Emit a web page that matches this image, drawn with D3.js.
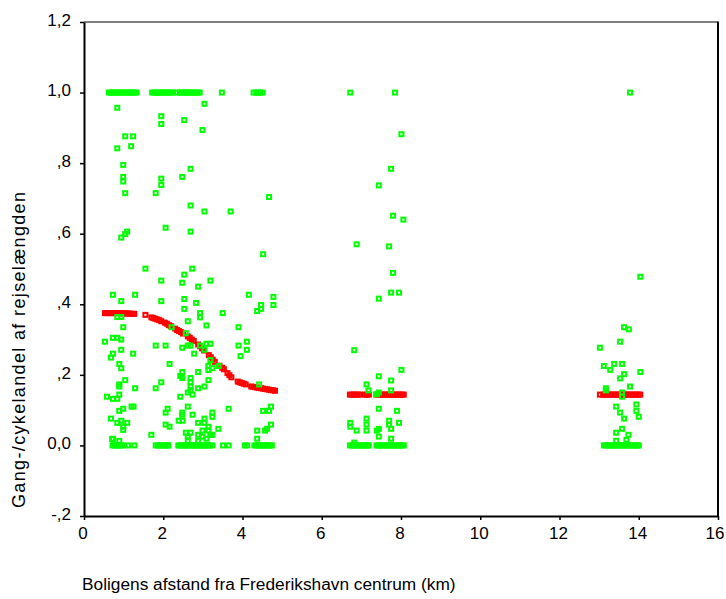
<!DOCTYPE html>
<html>
<head>
<meta charset="utf-8">
<script src="https://cdn.jsdelivr.net/npm/d3@7/dist/d3.min.js"></script>
<style>
  html, body { margin: 0; padding: 0; background: #fff; }
  svg { display: block; }
  text { font-family: "Liberation Sans", Arial, sans-serif; fill: #000; }
</style>
</head>
<body>
<svg id="chart" width="726" height="599"></svg>
<script>
// ---- Data ----
const xTicks = [0, 2, 4, 6, 8, 10, 12, 14, 16];
const xTickLabels = ["0", "2", "4", "6", "8", "10", "12", "14", "16"];
const yTicks = [-0.2, 0, 0.2, 0.4, 0.6, 0.8, 1.0, 1.2];
const yTickLabels = ["-,2", "0,0", ",2", ",4", ",6", ",8", "1,0", "1,2"];
const xTitle = "Boligens afstand fra Frederikshavn centrum (km)";
const yTitle = "Gang-/cykelandel af rejselængden";

// observed values equal to 1 (x positions)
const greenOnesX = [0.63,0.68,0.73,0.78,0.83,0.88,0.93,0.98,1.03,1.08,1.13,1.18,1.23,1.28,1.33,
  1.72,1.77,1.82,1.87,1.92,1.97,2.02,2.07,2.12,2.17,2.22,
  2.35,2.42,2.47,2.52,2.57,2.62,2.67,2.72,2.77,2.82,2.87,2.92,
  3.48,
  4.28,4.35,4.40,4.45,4.51,
  6.72, 7.85, 13.78];

// observed values equal to 0 (x positions)
const greenZerosX = [0.72,0.77,0.82,0.87,0.92,0.97,1.11,1.27,
  1.81,1.86,1.91,1.96,2.01,2.06,2.11,2.13,
  2.38,2.43,2.48,2.53,2.58,2.63,2.68,2.73,2.78,2.83,2.88,2.93,2.98,3.03,3.08,3.13,3.18,3.24,
  3.51,3.65,
  4.06,4.12,
  4.30,4.35,4.40,4.45,4.50,4.55,4.60,4.65,4.70,4.74,
  6.71,6.76,6.81,6.86,6.91,6.96,7.01,7.06,7.11,7.16,7.19,
  7.38,7.43,7.48,7.53,7.58,7.63,7.68,7.73,7.78,7.83,7.88,7.93,7.98,8.03,8.07,
  13.12,13.17,13.22,13.27,13.32,13.37,13.42,13.47,13.52,13.57,13.62,13.67,13.72,13.77,13.82,13.87,13.92,13.97,14.0];

// other observed values [x, y]
const greenPoints = [
  [0.84,0.957],[3.04,0.968],[1.95,0.933],[1.95,0.911],[2.53,0.922],[2.99,0.894],
  [1.04,0.876],[1.24,0.876],[0.84,0.842],[1.19,0.848],[0.99,0.795],[2.69,0.784],
  [0.99,0.761],[0.99,0.748],[1.95,0.756],[1.95,0.738],[2.48,0.761],[1.04,0.715],
  [1.81,0.715],[4.67,0.704],[2.69,0.680],[3.04,0.663],[3.70,0.663],[2.06,0.617],
  [2.69,0.606],[1.09,0.606],[1.04,0.599],[0.94,0.589],[4.52,0.542],
  [1.55,0.501],[2.73,0.501],[2.53,0.484],[1.95,0.467],[2.48,0.461],[3.19,0.467],
  [2.88,0.450],[0.73,0.427],[1.29,0.427],[4.16,0.427],[4.78,0.421],[0.94,0.409],
  [1.95,0.409],[2.53,0.415],[2.83,0.404],[4.47,0.398],[4.78,0.398],[4.47,0.387],
  [4.37,0.381],[2.53,0.387],[2.93,0.375],[2.93,0.363],[3.50,0.375],[0.84,0.364],
  [0.94,0.364],[0.99,0.335],[2.62,0.352],[3.09,0.340],[2.21,0.335],[3.90,0.335],
  [2.57,0.318],[0.73,0.305],[0.84,0.305],[0.94,0.300],[0.53,0.294],[4.11,0.294],
  [1.81,0.283],[2.06,0.283],[2.48,0.277],[2.62,0.283],[2.69,0.283],[2.93,0.283],
  [3.09,0.288],[3.19,0.288],[3.04,0.271],[3.90,0.283],[4.11,0.271],[0.94,0.271],
  [0.73,0.260],[0.68,0.249],[1.24,0.260],[2.78,0.260],[3.95,0.253],[3.19,0.242],
  [0.89,0.231],[2.16,0.231],[0.94,0.219],[3.14,0.225],[3.14,0.214],[3.24,0.219],
  [3.40,0.225],[2.48,0.208],[2.88,0.208],[2.43,0.197],[2.48,0.191],[2.69,0.191],
  [3.14,0.185],[1.04,0.185],[1.95,0.179],[2.69,0.179],[0.89,0.173],[0.89,0.167],
  [2.69,0.167],[3.04,0.167],[1.29,0.162],[1.81,0.162],[2.88,0.162],[4.42,0.173],
  [2.69,0.156],[2.62,0.150],[2.74,0.144],[0.89,0.144],[0.58,0.138],[0.73,0.132],
  [0.84,0.132],[2.43,0.138],[1.20,0.110],[1.25,0.110],[0.99,0.104],[2.62,0.110],
  [2.11,0.104],[3.65,0.104],[4.72,0.110],[0.89,0.098],[4.52,0.098],[4.67,0.098],
  [2.06,0.093],[2.48,0.093],[2.48,0.087],[2.74,0.087],[3.24,0.093],[3.24,0.081],
  [0.68,0.076],[3.04,0.076],[0.84,0.064],[0.94,0.070],[1.09,0.064],[2.39,0.070],
  [2.49,0.070],[2.88,0.064],[3.04,0.064],[3.14,0.053],[0.99,0.053],[0.99,0.044],
  [2.06,0.059],[2.16,0.053],[4.72,0.059],[4.37,0.042],[4.57,0.042],[4.62,0.047],
  [3.39,0.047],[1.70,0.030],[2.57,0.036],[2.69,0.036],[2.88,0.030],[2.99,0.042],
  [3.14,0.042],[3.19,0.030],[3.24,0.030],[2.62,0.025],[2.99,0.025],[3.09,0.019],
  [0.73,0.019],[0.89,0.013],[4.37,0.019],[2.62,0.013],[2.88,0.013],[0.71,0.018],
  // middle cluster
  [8.01,0.882],[7.75,0.784],[7.44,0.737],[7.80,0.651],[8.06,0.640],[6.88,0.570],
  [7.70,0.564],[7.80,0.489],[7.75,0.433],[7.95,0.433],[7.44,0.416],[6.82,0.270],
  [8.01,0.214],[7.44,0.196],[7.75,0.184],[7.13,0.173],[7.18,0.156],[7.44,0.150],
  [7.75,0.156],[7.39,0.145],[7.44,0.104],[7.90,0.098],[6.72,0.064],[6.72,0.053],
  [7.13,0.076],[7.13,0.059],[7.13,0.042],[6.88,0.042],[7.70,0.070],[7.70,0.059],
  [7.75,0.047],[7.95,0.064],[7.39,0.042],[7.44,0.047],[7.44,0.025],[7.75,0.019],
  [6.82,0.008],
  // right cluster
  [14.04,0.478],[13.63,0.335],[13.75,0.329],[13.53,0.294],[13.02,0.277],[13.12,0.225],
  [13.38,0.231],[13.58,0.231],[13.28,0.214],[13.63,0.202],[14.04,0.208],[13.53,0.190],
  [13.78,0.167],[13.17,0.162],[13.17,0.156],[13.58,0.150],[13.58,0.138],[13.43,0.110],
  [13.94,0.116],[13.94,0.098],[13.53,0.093],[14.0,0.081],[13.63,0.076],[13.58,0.047],
  [13.43,0.036],[13.74,0.030],[13.43,0.013],[13.69,0.016]
];

// predicted values [x, y]
const redPoints = [
  [0.53,0.375],[0.58,0.375],[0.63,0.375],[0.68,0.375],[0.73,0.375],[0.78,0.375],
  [0.83,0.375],[0.88,0.375],[0.93,0.375],[0.98,0.374],[1.03,0.374],[1.08,0.374],
  [1.13,0.374],[1.18,0.373],[1.23,0.373],[1.27,0.373],
  [1.55,0.370],
  [1.70,0.363],[1.75,0.361],[1.80,0.359],[1.85,0.357],[1.90,0.355],[1.95,0.352],
  [2.04,0.348],[2.09,0.345],[2.14,0.341],[2.19,0.338],
  [2.30,0.331],[2.35,0.327],[2.40,0.324],[2.45,0.321],[2.50,0.317],
  [2.62,0.309],[2.67,0.305],[2.72,0.300],[2.77,0.296],
  [2.88,0.286],[2.93,0.281],[2.98,0.275],[3.03,0.269],
  [3.15,0.256],[3.20,0.250],[3.25,0.243],[3.30,0.237],
  [3.42,0.226],[3.49,0.220],[3.53,0.216],
  [3.62,0.205],[3.67,0.199],[3.72,0.193],
  [3.88,0.181],[3.93,0.179],[3.98,0.177],[4.03,0.175],[4.08,0.173],
  [4.22,0.167],[4.27,0.166],[4.32,0.165],[4.37,0.164],[4.42,0.163],[4.47,0.162],
  [4.52,0.161],[4.57,0.160],[4.62,0.159],[4.67,0.158],[4.72,0.157],[4.77,0.156],[4.82,0.155],
  [6.71,0.144],[6.76,0.144],[6.81,0.144],[6.86,0.144],[6.91,0.144],[6.96,0.144],
  [7.09,0.144],[7.14,0.144],[7.19,0.144],
  [7.38,0.144],[7.43,0.144],[7.48,0.144],[7.53,0.144],[7.58,0.144],[7.63,0.144],
  [7.68,0.144],[7.73,0.144],[7.78,0.144],[7.83,0.144],[7.88,0.144],[7.93,0.144],
  [7.98,0.144],[8.03,0.144],[8.07,0.144],
  [13.02,0.144],[13.10,0.144],[13.15,0.144],[13.20,0.144],[13.25,0.144],[13.30,0.144],
  [13.35,0.144],[13.40,0.144],[13.45,0.144],[13.50,0.144],[13.55,0.144],[13.60,0.144],
  [13.65,0.144],[13.70,0.144],[13.75,0.144],[13.80,0.144],[13.85,0.144],[13.90,0.144],
  [13.95,0.144],[14.00,0.144],[14.04,0.144]
];

// ---- Drawing ----
const svg = d3.select("#chart");
const plotLeft = 84, plotRight = 718, plotTop = 22, plotBottom = 516;
const x = d3.scaleLinear().domain([0, 16]).range([plotLeft, plotRight]);
const y = d3.scaleLinear().domain([-0.2, 1.2]).range([plotBottom, plotTop]);

const GREEN = "#00ff00", RED = "#ff0000";
const FONT = "Liberation Sans, Arial, sans-serif";

function drawPoints(data, color) {
  svg.append("g")
    .selectAll("rect")
    .data(data)
    .join("rect")
    .attr("x", d => x(d[0]) - 2)
    .attr("y", d => y(d[1]) - 2)
    .attr("width", 4)
    .attr("height", 4)
    .attr("fill", "none")
    .attr("stroke", color)
    .attr("stroke-width", 2);
}

drawPoints(redPoints, RED);
drawPoints(greenPoints
  .concat(greenOnesX.map(v => [v, 1]))
  .concat(greenZerosX.map(v => [v, 0])), GREEN);

// axes
const yAxis = d3.axisLeft(y)
  .tickValues(yTicks)
  .tickFormat((d, i) => yTickLabels[i])
  .tickSize(4)
  .tickSizeOuter(0);
const gy = svg.append("g").attr("transform", `translate(${plotLeft},0)`).call(yAxis);
gy.select(".domain").attr("stroke-width", 2);
gy.selectAll(".tick line").attr("stroke-width", 1.5);
gy.selectAll(".tick text")
  .attr("font-size", 17)
  .attr("font-family", FONT)
  .attr("x", -13)
  .attr("dy", "0.2em");

const xAxis = d3.axisBottom(x)
  .tickValues(xTicks)
  .tickFormat((d, i) => xTickLabels[i])
  .tickSize(4)
  .tickSizeOuter(0);
const gx = svg.append("g").attr("transform", `translate(0,${plotBottom})`).call(xAxis);
gx.select(".domain").attr("stroke-width", 2);
gx.selectAll(".tick line").attr("stroke-width", 1.5);
gx.selectAll(".tick text")
  .attr("font-size", 17)
  .attr("font-family", FONT)
  .attr("y", 11)
  .attr("dx", (d, i) => i === xTicks.length - 1 ? -3.5 : -1.5);

// top and right frame
svg.append("line").attr("x1", x(0)).attr("x2", x(16)).attr("y1", y(1.2)).attr("y2", y(1.2))
  .attr("stroke", "#000").attr("stroke-width", 1.2);
svg.append("line").attr("x1", x(16)).attr("x2", x(16)).attr("y1", y(1.2) - 0.6).attr("y2", y(-0.2))
  .attr("stroke", "#000").attr("stroke-width", 2);

// titles
svg.append("text")
  .attr("x", 82).attr("y", 590)
  .attr("font-size", 17.3)
  .text(xTitle);

svg.append("text")
  .attr("transform", "translate(25,350) rotate(-90)")
  .attr("text-anchor", "middle")
  .attr("font-size", 18)
  .attr("textLength", 316)
  .attr("lengthAdjust", "spacing")
  .text(yTitle);
</script>
</body>
</html>
